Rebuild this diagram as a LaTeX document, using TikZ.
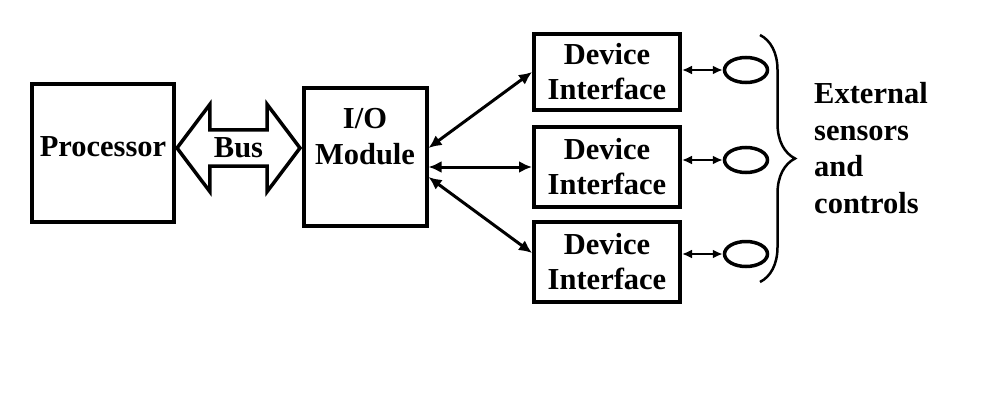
\documentclass[tikz,border=0pt]{standalone}
\usepackage{fontspec}
\setmainfont{Liberation Serif}
\usetikzlibrary{arrows.meta,shapes.arrows,shapes.geometric,decorations.pathreplacing}
\tikzset{
  blk/.style={draw,line width=4pt,inner sep=0pt,align=center,font=\bfseries\fontsize{30.5}{35}\selectfont},
  lbl/.style={draw=none,inner sep=0pt,align=left,font=\bfseries\fontsize{30.5}{36.5}\selectfont},
  link/.style={{Latex[length=13pt,width=12pt]}-{Latex[length=13pt,width=12pt]},line width=3pt},
  tie/.style={{Latex[length=10pt,width=9pt]}-{Latex[length=10pt,width=9pt]},line width=2.5pt},
  sensor/.style={draw,ellipse,line width=3.5pt,minimum width=43pt,minimum height=25pt,inner sep=0pt}
}
\begin{document}
\begin{tikzpicture}[x=1pt,y=-1pt]
\useasboundingbox (0,0) rectangle (984,412);
\node[blk,minimum width=142pt,minimum height=138pt,text depth=13pt] (proc) at (103,153) {Processor};
\node[blk,minimum width=123pt,minimum height=138pt,
  label={[lbl,align=center,anchor=north,yshift=-22pt]north:{I/O\\Module}}] (io) at (365,157) {};
\node[draw,double arrow,line width=3.5pt,minimum height=123pt,minimum width=87pt,
  double arrow head extend=23pt,double arrow tip angle=106,inner sep=4.5pt,
  font=\bfseries\fontsize{30.5}{35}\selectfont] (bus) at (238.5,148) {Bus};

\node[blk,minimum width=146pt,minimum height=76pt] (dev1) at (607,72) {Device\\Interface};
\node[blk,minimum width=146pt,minimum height=80pt] (dev2) at (607,167) {Device\\Interface};
\node[blk,minimum width=146pt,minimum height=80pt] (dev3) at (607,262) {Device\\Interface};

\draw[link] ([yshift=9pt]io.east) -- (dev1.west);
\draw[link] (io.east |- dev2.west) -- (dev2.west);
\draw[link] ([yshift=-20pt]io.east) -- ([yshift=9pt]dev3.west);

\node[sensor] (s1) at (746,70) {};
\node[sensor] (s2) at (746,160) {};
\node[sensor] (s3) at (746,254) {};
\draw[tie] (dev1.east |- s1.west) -- (s1.west);
\draw[tie] (dev2.east |- s2.west) -- (s2.west);
\draw[tie] (dev3.east |- s3.west) -- (s3.west);

\draw[decorate,decoration={brace,amplitude=35pt},line width=2.5pt] (760,35) -- (760,282);
\node[lbl,anchor=west] (ext) at (814,148) {External\\sensors\\and\\controls};
\end{tikzpicture}
\end{document}
